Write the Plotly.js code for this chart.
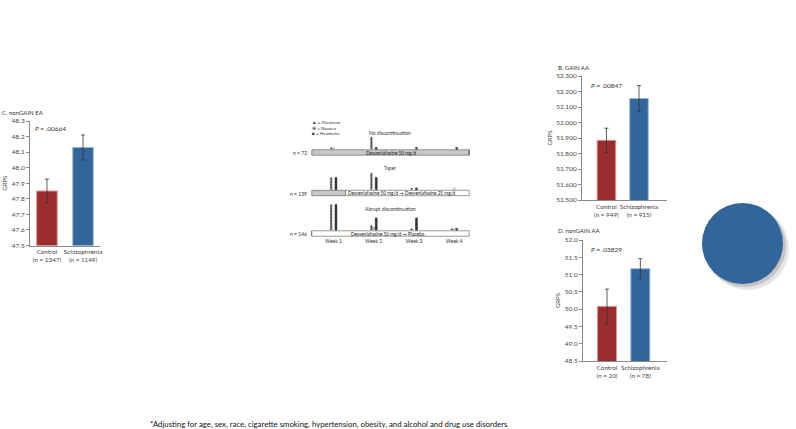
<!DOCTYPE html>
<html>
<head>
<meta charset="utf-8">
<script src="https://cdn.plot.ly/plotly-3.0.1.min.js"></script>
<style>
  html, body { margin: 0; padding: 0; background: #fff; }
  #graphDiv { width: 796px; height: 429px; }
</style>
</head>
<body>
<div id="graphDiv"></div>
<script>
// group means of GRPS with standard errors, per panel
var groups = ['Control', 'Schizophrenia'];

var nC = ['(n = 1347)', '(n = 1149)'];
var grpsC = [47.85, 48.13];
var seC = [0.077, 0.08];

var nB = ['(n = 949)', '(n = 915)'];
var grpsB = [51.885, 52.155];
var seB = [0.078, 0.083];

var nD = ['(n = 20)', '(n = 78)'];
var grpsD = [50.08, 51.17];
var seD = [0.5, 0.29];

// middle schematic: discontinuation arms, symptom counts by week
var arms = ['No discontinuation', 'Taper', 'Abrupt discontinuation'];
var armN = ['n = 72', 'n = 139', 'n = 146'];
var armDrug = ['Desvenlafaxine 50 mg/d',
               'Desvenlafaxine 50 mg/d \u2192 Desvenlafaxine 25 mg/d',
               'Desvenlafaxine 50 mg/d \u2192 Placebo'];
var fullDoseEnd = [4.37, 1.3, 0.46];   // week where the grey (full dose) segment stops
var weeks = [1, 2, 3, 4];
var dizziness = [[1, 8, 0, 0], [8, 11, 1, 0], [17, 3, 1, 1]];
var nausea    = [[1, 0, 0, 0], [0, 0, 0, 1], [0, 2, 0, 1]];
var headache  = [[0, 1, 1, 1], [8, 8, 1, 0], [17, 8, 8, 1]];

var footnote = '*Adjusting for age, sex, race, cigarette smoking, hypertension, obesity, and alcohol and drug use disorders';

var W = 796, H = 429;
function px(x) { return x / W; }
function py(y) { return 1 - y / H; }

var red = 'rgb(155,45,46)', blue = 'rgb(51,101,157)';
var font = 'Lato, "Open Sans", sans-serif';

function barTrace(vals, se, nlab, xa, ya) {
  return {
    type: 'bar',
    x: groups.map(function (g, i) { return g + '<br>' + nlab[i]; }),
    y: vals,
    xaxis: xa, yaxis: ya,
    width: 0.57,
    marker: { color: [red, blue], line: { color: ['rgb(214,150,150)', 'rgb(150,185,220)'], width: 1 } },
    error_y: { type: 'data', array: se, visible: true, color: '#333', thickness: 0.8, width: 2 },
    showlegend: false, hoverinfo: 'y'
  };
}

var data = [
  barTrace(grpsC, seC, nC, 'x', 'y'),
  barTrace(grpsB, seB, nB, 'x2', 'y2'),
  barTrace(grpsD, seD, nD, 'x3', 'y3')
];

// arm bars (grey full-dose segment + white remainder)
var armY = [54, 27, 0];
var start = 0.46, end = 4.37;
data.push({
  type: 'bar', orientation: 'h', xaxis: 'x4', yaxis: 'y4',
  y: armY, base: armY.map(function () { return start; }),
  x: fullDoseEnd.map(function (e) { return e - start; }),
  width: 3.6, marker: { color: '#c8c8c8', line: { color: '#555', width: 0.6 } },
  showlegend: false, hoverinfo: 'skip'
});
data.push({
  type: 'bar', orientation: 'h', xaxis: 'x4', yaxis: 'y4',
  y: armY, base: fullDoseEnd,
  x: fullDoseEnd.map(function (e) { return end - e; }),
  width: 3.6, marker: { color: '#fff', line: { color: '#555', width: 0.6 } },
  showlegend: false, hoverinfo: 'skip'
});

// symptom stacks
function stack(counts, dx, sym) {
  var xs = [], ys = [];
  counts.forEach(function (row, r) {
    row.forEach(function (c, w) {
      for (var k = 0; k < c; k++) {
        xs.push(weeks[w] + dx);
        ys.push(armY[r] + 2.8 + k);
      }
    });
  });
  return {
    type: 'scatter', mode: 'markers', x: xs, y: ys, xaxis: 'x4', yaxis: 'y4',
    marker: { symbol: sym, size: 2, color: '#333', line: { color: '#333', width: 0.3 } },
    showlegend: false, hoverinfo: 'skip'
  };
}
data.push(stack(dizziness, -0.06, 'triangle-up'));
data.push(stack(nausea, 0, 'circle-open'));
data.push(stack(headache, 0.06, 'square'));

var axLine = { showline: true, linecolor: '#8a8a8a', linewidth: 1, showgrid: false, zeroline: false,
               ticks: 'outside', ticklen: 3, tickcolor: '#8a8a8a',
               tickfont: { family: font, size: 6.5, color: '#444' } };

function yax(dom, range, dtick, fmt) {
  return Object.assign({}, axLine, {
    domain: dom, range: range, dtick: dtick, tickformat: fmt,
    title: { text: 'GRPS', font: { family: font, size: 6, color: '#444' }, standoff: 3 }
  });
}
function xax(dom, range, anchor) {
  return Object.assign({}, axLine, { domain: dom, range: range, anchor: anchor, ticks: '',
    tickangle: 0, tickfont: { family: font, size: 6.3, color: '#444' } });
}

var ann = [];
function txt(x, y, s, size, anchor, extra) {
  ann.push(Object.assign({ xref: 'paper', yref: 'paper', x: px(x), y: py(y), text: s, showarrow: false,
    xanchor: anchor || 'left', yanchor: 'middle', font: { family: font, size: size, color: '#333' } }, extra || {}));
}
txt(0, 112, 'C. nonGAIN EA', 6);
txt(33, 128, '<i>P</i> = .00664', 6.5);
txt(556, 68, 'B. GAIN AA', 6);
txt(589, 85, '<i>P</i> = .00847', 6.5);
txt(556, 230, 'D. nonGAIN AA', 6);
txt(589, 249, '<i>P</i> = .03829', 6.5);
txt(148, 424, footnote, 7.8, 'left', { font: { family: font, size: 7.8, color: '#111' } });

// schematic text
txt(310, 122, '\u25B2 = Dizziness', 4.6);
txt(310, 127.5, '\u2295 = Nausea', 4.6);
txt(310, 133, '\u25A0 = Headache', 4.6);
var titleY = [133, 168, 209];
arms.forEach(function (a, i) {
  txt(390, titleY[i], a, 5, 'center');
  txt(309, [152.5, 193.5, 233.5][i], armN[i], 5, 'right');
});
armDrug.forEach(function (d, i) {
  ann.push({ xref: 'x4', yref: 'y4', x: [2.42, 1.32, 2.35][i], y: armY[i], text: d, showarrow: false,
    xanchor: i === 1 ? 'left' : 'center', yanchor: 'middle', font: { family: font, size: 4.7, color: '#222' } });
});

var layout = {
  width: W, height: H,
  margin: { l: 0, r: 0, t: 0, b: 0 },
  paper_bgcolor: '#fff', plot_bgcolor: 'rgba(0,0,0,0)',
  barmode: 'overlay',
  xaxis: xax([px(30), px(100)], [-0.47, 1.47], 'y'),
  yaxis: yax([py(245.5), py(121)], [47.5, 48.3], 0.1, '.1f'),
  xaxis2: xax([px(582), px(667)], [-0.75, 1.86], 'y2'),
  yaxis2: Object.assign(yax([py(200), py(76)], [51.5, 52.3], 0.1, '.3f'), { anchor: 'x2' }),
  xaxis3: xax([px(583), px(667)], [-0.72, 1.8], 'y3'),
  yaxis3: Object.assign(yax([py(361), py(240)], [48.5, 52.0], 0.5, '.1f'), { anchor: 'x3' }),
  xaxis4: { domain: [px(311), px(470)], range: [start - 0.02, end + 0.02], anchor: 'y4',
            tickvals: weeks, ticktext: weeks.map(function (w) { return 'Week ' + w; }),
            showline: false, showgrid: false, zeroline: false, ticks: '',
            tickfont: { family: font, size: 5, color: '#333' } },
  yaxis4: { domain: [py(237), py(118)], range: [-2.33, 77], visible: false, anchor: 'x4' },
  annotations: ann,
  shapes: [
    { type: 'circle', xref: 'paper', yref: 'paper', x0: px(706), x1: px(789), y0: py(207), y1: py(290),
      fillcolor: 'rgba(0,0,0,0.10)', line: { width: 0 } },
    { type: 'circle', xref: 'paper', yref: 'paper', x0: px(704), x1: px(786), y0: py(205), y1: py(287),
      fillcolor: 'rgba(0,0,0,0.14)', line: { width: 0 } },
    { type: 'circle', xref: 'paper', yref: 'paper', x0: px(702), x1: px(783), y0: py(203), y1: py(284),
      fillcolor: 'rgb(51,101,157)', line: { width: 0 } }
  ]
};

Plotly.newPlot('graphDiv', data, layout, { displayModeBar: false, staticPlot: true });
</script>
</body>
</html>
